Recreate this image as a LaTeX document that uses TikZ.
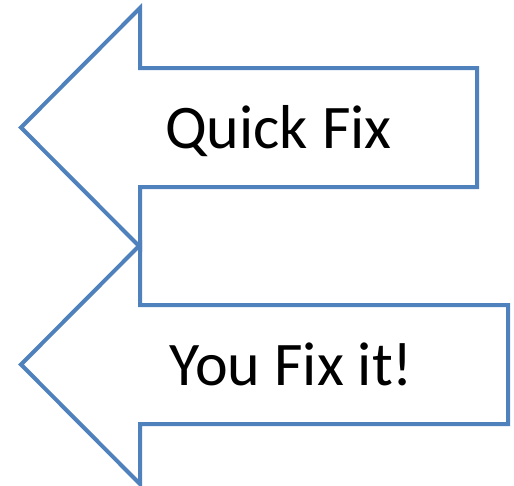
\documentclass[tikz,border=0pt]{standalone}
\usepackage{fontspec}
\setmainfont{Carlito}
\definecolor{officeblue}{RGB}{79,129,189}

\begin{document}
\begin{tikzpicture}[x=1pt, y=-1pt,
    arrow outline/.style={draw=officeblue, line width=4pt, fill=white},
    arrow label/.style={font=\fontsize{62}{70}\selectfont, anchor=base,
        inner sep=0pt}
]
\path[use as bounding box] (0,0) rectangle (514,485);

% Quick Fix arrow
\draw[arrow outline] (21,127.5) -- (140,8) -- (140,68) -- (477,68)
    -- (477,187) -- (140,187) -- (140,247) -- cycle;
\node[arrow label] (quick-fix) at (278.5,148) {Quick Fix};

% You Fix it arrow
\draw[arrow outline] (21,364.5) -- (140,245) -- (140,305) -- (508,305)
    -- (508,424) -- (140,424) -- (140,484) -- cycle;
\node[arrow label] (you-fix) at (291.5,385) {You Fix it!};

\end{tikzpicture}
\end{document}
